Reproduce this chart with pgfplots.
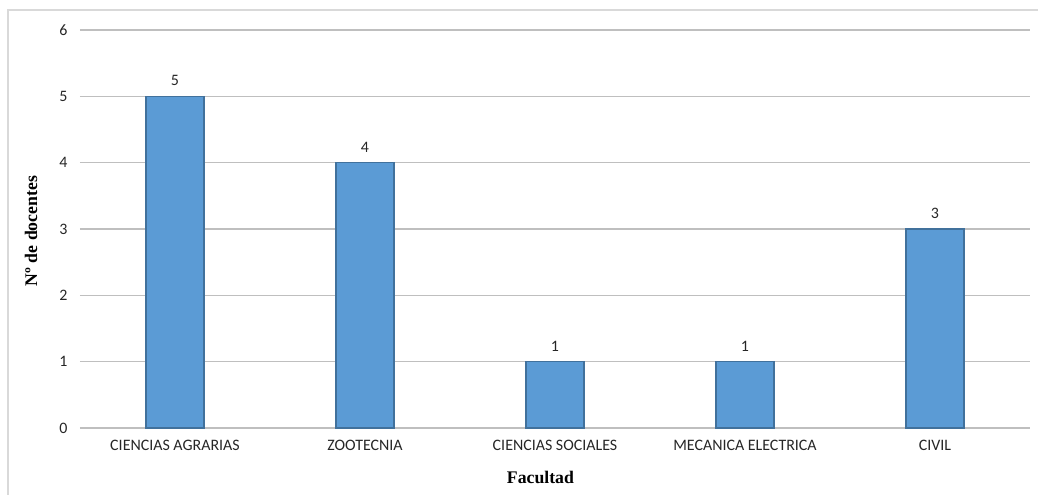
\documentclass[border=0pt]{standalone}
\usepackage{pgfplots}
\pgfplotsset{compat=1.18}
\usepackage{fontspec}
\setmainfont{Carlito}
\newfontfamily\titlefont{Liberation Serif}
\definecolor{barfill}{HTML}{5B9BD5}
\definecolor{baredge}{HTML}{41719C}
\definecolor{gridgray}{HTML}{BFBFBF}
\definecolor{framegray}{HTML}{D9D9D9}
\definecolor{txt}{HTML}{262626}
\begin{document}
\begin{tikzpicture}[x=1bp,y=1bp]
\useasboundingbox (-80,-67) rectangle (958,428);
\draw[framegray, line width=1.5bp] (-72,-70) -- (-72,418) -- (962,418);
\begin{axis}[
  at={(0,0)}, anchor=south west,
  scale only axis,
  width=950bp, height=398bp,
  xmin=-0.5, xmax=4.5,
  ymin=0, ymax=6,
  xtick=data,
  xticklabels={CIENCIAS AGRARIAS, ZOOTECNIA, CIENCIAS SOCIALES, MECANICA ELECTRICA, CIVIL},
  ytick={0,1,2,3,4,5,6},
  axis line style={draw=none},
  major tick length=0pt,
  ymajorgrids,
  grid style={gridgray, line width=1.2bp},
  tick label style={font=\fontsize{16}{18}\selectfont, text=txt},
  /pgf/number format/assume math mode=true,
  yticklabel style={xshift=-9bp},
  xticklabel style={yshift=-8.5bp},
  xlabel={\titlefont\bfseries Facultad},
  ylabel={\titlefont\bfseries Nº de docentes},
  xlabel style={font=\fontsize{17.8}{20}\selectfont, at={(rel axis cs:0.4847,0)}, anchor=center, yshift=-49bp},
  ylabel style={font=\fontsize{17.8}{20}\selectfont, at={(rel axis cs:0,0.495)}, anchor=center, yshift=49bp},
  nodes near coords,
  every node near coord/.append style={font=\fontsize{16}{18}\selectfont, text=txt, yshift=6.5bp},
  clip=false,
]
\addplot[ybar, bar width=58bp, fill=barfill, draw=baredge, line width=1.2bp]
  coordinates {(0,5) (1,4) (2,1) (3,1) (4,3)};
\end{axis}
\end{tikzpicture}
\end{document}
